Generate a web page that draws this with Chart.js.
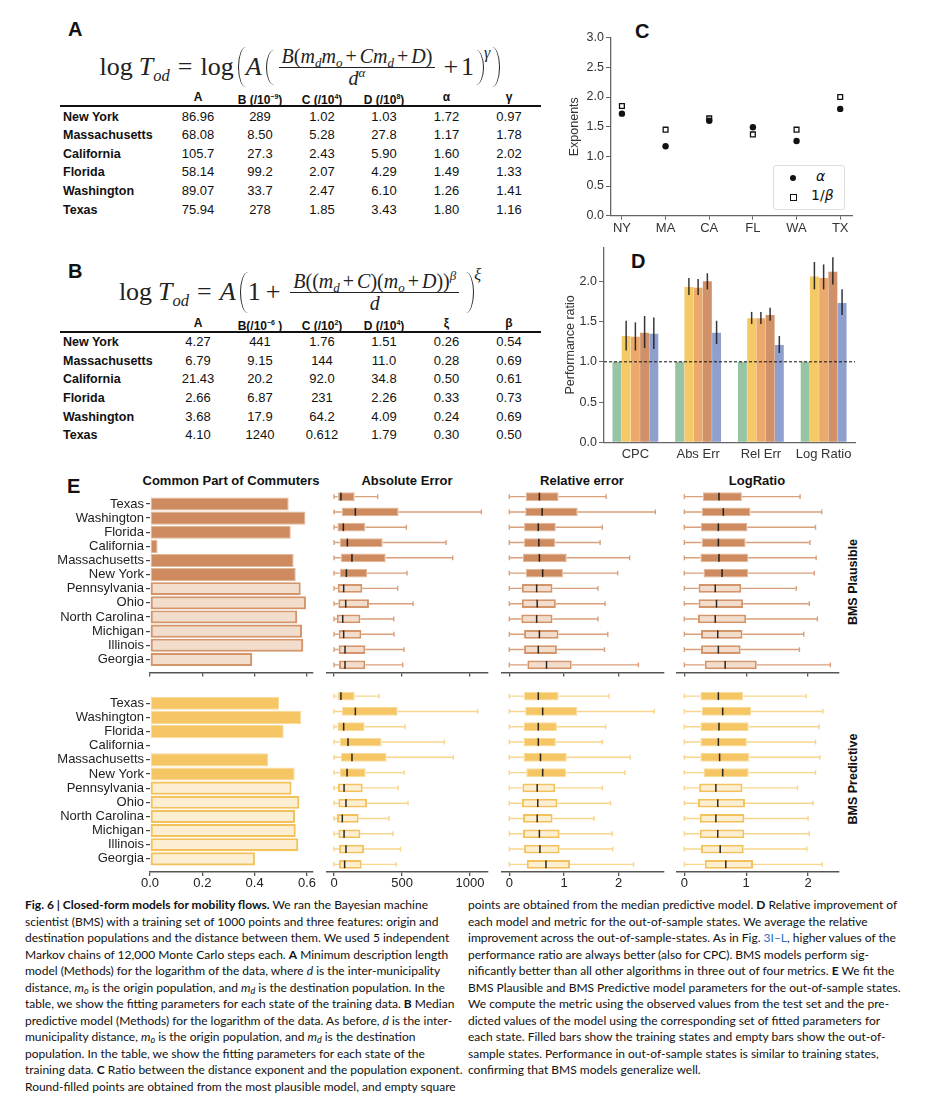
<!DOCTYPE html>
<html>
<head>
<meta charset="utf-8">
<script src="https://cdn.jsdelivr.net/npm/chart.js@4.4.1/dist/chart.umd.min.js"></script>
<style>
body { margin: 0; background: #fff; }
#page { position: relative; width: 933px; height: 1108px; overflow: hidden; font-family: "Liberation Sans", Arial, sans-serif; color: #111; }
.abs { position: absolute; }
.letter { position: absolute; font-weight: bold; font-size: 20px; line-height: 1; }
.hdr { position: absolute; font-weight: bold; font-size: 12px; text-align: center; width: 80px; line-height: 18px; white-space: nowrap; }
.hdr sup { font-size: 7px; }
.cell { position: absolute; font-size: 13px; text-align: center; width: 70px; line-height: 18px; }
.state { position: absolute; font-weight: bold; font-size: 12.5px; line-height: 18px; left: 63px; }
.rule { position: absolute; left: 60px; width: 481px; height: 2px; background: #111; }
.formula { position: absolute; display: flex; align-items: center; justify-content: center; font-family: "Liberation Serif", "DejaVu Serif", serif; font-size: 26px; white-space: nowrap; color: #222; }
.formula sub { font-size: 16.5px; vertical-align: -6px; line-height: 0; }
.frac { display: inline-flex; flex-direction: column; align-items: center; font-size: 20px; margin: 0 5px; line-height: 20px; }
.frac sub { font-size: 13px; vertical-align: -4px; }
.frac sup { font-size: 13px; line-height: 0; }
.num { border-bottom: 1px solid #222; padding: 0 3px 1px 3px; }
.op { margin: 0 3px; }
.eq { margin: 0 8px; }
.pl { display: inline-block; width: 7px; border-left: 1.4px solid #222; border-radius: 100% 0 0 100% / 50% 0 0 50%; margin: 0 0 0 4px; }
.pr { display: inline-block; width: 7px; border-right: 1.4px solid #222; border-radius: 0 100% 100% 0 / 0 50% 50% 0; margin: 0 0 0 2px; }
.pow { font-size: 16px; align-self: flex-start; font-style: italic; }
.sp { display: inline-block; width: 6px; }
.coltitle { position: absolute; font-weight: bold; font-size: 13px; text-align: center; width: 220px; line-height: 16px; }
.rowtitle { position: absolute; font-weight: bold; font-size: 12.5px; transform: rotate(-90deg); transform-origin: center; width: 120px; text-align: center; line-height: 14px; }
.caption { position: absolute; font-family: Lato, "Liberation Sans", sans-serif; font-size: 12px; line-height: 16.55px; white-space: nowrap; color: #111; }
.caption sub { font-size: 9px; line-height: 0; vertical-align: -2px; }
.caption b { font-weight: bold; }
.link { color: #2a6ebb; }
</style>
</head>
<body>
<div id="page">

<div class="letter" style="left:68px;top:19px;">A</div>
<div class="formula" style="left:40px;top:41px;width:520px;height:52px;">
  <span>log</span><span class="sp"></span><span><i>T</i><sub><i>od</i></sub></span><span class="eq">=</span><span>log</span>
  <span class="pl" style="height:40px;"></span><span><i>A</i></span>
  <span class="pl" style="height:35px;"></span>
  <span class="frac"><span class="num"><i>B</i>(<i>m</i><sub><i>d</i></sub><i>m</i><sub><i>o</i></sub><span class="op">+</span><i>Cm</i><sub><i>d</i></sub><span class="op">+</span><i>D</i>)</span><span class="den"><i>d</i><sup><i>α</i></sup></span></span>
  <span class="op">+</span><span>1</span><span class="pr" style="height:35px;"></span><span class="pow" style="margin-top:3px;">γ</span><span class="pr" style="height:40px;"></span>
</div>

<div class="letter" style="left:68px;top:261px;">B</div>
<div class="formula" style="left:40px;top:266px;width:520px;height:52px;">
  <span>log</span><span class="sp"></span><span><i>T</i><sub><i>od</i></sub></span><span class="eq">=</span><span><i>A</i></span>
  <span class="pl" style="height:41px;"></span><span>1</span><span class="op" style="margin:0 5px;">+</span>
  <span class="frac"><span class="num"><i>B</i>((<i>m</i><sub><i>d</i></sub><span class="op">+</span><i>C</i>)(<i>m</i><sub><i>o</i></sub><span class="op">+</span><i>D</i>))<sup><i>β</i></sup></span><span class="den"><i>d</i></span></span>
  <span class="pr" style="height:41px;"></span><span class="pow" style="margin-top:0px;">ξ</span>
</div>

<div class="letter" style="left:635px;top:21px;">C</div>
<div class="letter" style="left:631px;top:251px;">D</div>
<div class="letter" style="left:67px;top:476px;">E</div>

<div class="abs" style="left:773px;top:165px;width:70px;height:43px;border:1px solid #ddd;border-radius:3px;background:#fff;">
  <div class="abs" style="left:16px;top:9px;width:6px;height:6px;border-radius:50%;background:#111;"></div>
  <div class="abs" style="left:42px;top:2px;font-family:'DejaVu Sans';font-style:italic;font-size:14px;">α</div>
  <div class="abs" style="left:15.5px;top:28px;width:5px;height:5px;border:1.2px solid #111;background:#fff;"></div>
  <div class="abs" style="left:37px;top:21px;font-family:'DejaVu Sans';font-size:14px;">1/<i>β</i></div>
</div>

<div class="coltitle" style="left:121px;top:473px;">Common Part of Commuters</div>
<div class="coltitle" style="left:297px;top:473px;">Absolute Error</div>
<div class="coltitle" style="left:472px;top:473px;">Relative error</div>
<div class="coltitle" style="left:647px;top:473px;">LogRatio</div>
<div class="rowtitle" style="left:793px;top:575px;">BMS Plausible</div>
<div class="rowtitle" style="left:793px;top:772px;">BMS Predictive</div>

<div class="caption" style="left:25px;top:897px;">
<b>Fig. 6 | Closed-form models for mobility flows.</b> We ran the Bayesian machine<br>
scientist (BMS) with a training set of 1000 points and three features: origin and<br>
destination populations and the distance between them. We used 5 independent<br>
Markov chains of 12,000 Monte Carlo steps each. <b>A</b> Minimum description length<br>
model (Methods) for the logarithm of the data, where <i>d</i> is the inter-municipality<br>
distance, <i>m<sub>o</sub></i> is the origin population, and <i>m<sub>d</sub></i> is the destination population. In the<br>
table, we show the fitting parameters for each state of the training data. <b>B</b> Median<br>
predictive model (Methods) for the logarithm of the data. As before, <i>d</i> is the inter-<br>
municipality distance, <i>m<sub>o</sub></i> is the origin population, and <i>m<sub>d</sub></i> is the destination<br>
population. In the table, we show the fitting parameters for each state of the<br>
training data. <b>C</b> Ratio between the distance exponent and the population exponent.<br>
Round-filled points are obtained from the most plausible model, and empty square
</div>
<div class="caption" style="left:468px;top:897px;">
points are obtained from the median predictive model. <b>D</b> Relative improvement of<br>
each model and metric for the out-of-sample states. We average the relative<br>
improvement across the out-of-sample-states. As in Fig. <span class="link">3I–L</span>, higher values of the<br>
performance ratio are always better (also for CPC). BMS models perform sig-<br>
nificantly better than all other algorithms in three out of four metrics. <b>E</b> We fit the<br>
BMS Plausible and BMS Predictive model parameters for the out-of-sample states.<br>
We compute the metric using the observed values from the test set and the pre-<br>
dicted values of the model using the corresponding set of fitted parameters for<br>
each state. Filled bars show the training states and empty bars show the out-of-<br>
sample states. Performance in out-of-sample states is similar to training states,<br>
confirming that BMS models generalize well.
</div>

</div>

<script>
// ---- tables A and B ----
const tableStates = ['New York', 'Massachusetts', 'California', 'Florida', 'Washington', 'Texas'];
const headersA = ['A', 'B (/10<sup>−9</sup>)', 'C (/10<sup>4</sup>)', 'D (/10<sup>8</sup>)', 'α', 'γ'];
const fitParamsA = [
  ['86.96', '289', '1.02', '1.03', '1.72', '0.97'],
  ['68.08', '8.50', '5.28', '27.8', '1.17', '1.78'],
  ['105.7', '27.3', '2.43', '5.90', '1.60', '2.02'],
  ['58.14', '99.2', '2.07', '4.29', '1.49', '1.33'],
  ['89.07', '33.7', '2.47', '6.10', '1.26', '1.41'],
  ['75.94', '278', '1.85', '3.43', '1.80', '1.16']
];
const headersB = ['A', 'B(/10<sup>−6</sup> )', 'C (/10<sup>2</sup>)', 'D (/10<sup>4</sup>)', 'ξ', 'β'];
const fitParamsB = [
  ['4.27', '441', '1.76', '1.51', '0.26', '0.54'],
  ['6.79', '9.15', '144', '11.0', '0.28', '0.69'],
  ['21.43', '20.2', '92.0', '34.8', '0.50', '0.61'],
  ['2.66', '6.87', '231', '2.26', '0.33', '0.73'],
  ['3.68', '17.9', '64.2', '4.09', '0.24', '0.69'],
  ['4.10', '1240', '0.612', '1.79', '0.30', '0.50']
];

// ---- panel C ----
const stateCodes = ['NY', 'MA', 'CA', 'FL', 'WA', 'TX'];
const alphaExp = [1.72, 1.17, 1.60, 1.49, 1.26, 1.80];
const invBetaExp = [1.85, 1.45, 1.64, 1.37, 1.45, 2.00];

// ---- panel D ----
const metricNames = ['CPC', 'Abs Err', 'Rel Err', 'Log Ratio'];
const ratioModel1 = [1, 1, 1, 1];
const ratioModel2 = [1.32, 1.93, 1.54, 2.06];
const ratioModel2Lo = [1.14, 1.83, 1.47, 1.90];
const ratioModel2Hi = [1.51, 2.04, 1.62, 2.24];
const ratioModel3 = [1.31, 1.92, 1.54, 2.04];
const ratioModel3Lo = [1.14, 1.83, 1.47, 1.90];
const ratioModel3Hi = [1.49, 2.03, 1.62, 2.21];
const ratioModel4 = [1.36, 2.00, 1.58, 2.12];
const ratioModel4Lo = [1.17, 1.90, 1.51, 1.96];
const ratioModel4Hi = [1.57, 2.10, 1.67, 2.30];
const ratioModel5 = [1.35, 1.36, 1.21, 1.73];
const ratioModel5Lo = [1.16, 1.22, 1.11, 1.58];
const ratioModel5Hi = [1.55, 1.51, 1.32, 1.90];

// ---- panel E ----
const stateNames = ['Texas', 'Washington', 'Florida', 'California', 'Massachusetts', 'New York',
  'Pennsylvania', 'Ohio', 'North Carolina', 'Michigan', 'Illinois', 'Georgia'];
const trainCount = 6;
const cpcPlausible = [0.530, 0.594, 0.538, 0.029, 0.549, 0.557, 0.576, 0.596, 0.563, 0.581, 0.586, 0.391];
const cpcPredictive = [0.493, 0.578, 0.511, 0.004, 0.452, 0.553, 0.541, 0.571, 0.555, 0.557, 0.567, 0.401];
// [low whisker, q1, median, q3, high whisker]
const absErrPlausible = [[0, 27, 51, 152, 321], [0, 56, 157, 475, 1083], [0, 25, 69, 230, 532], [0, 42, 98, 358, 824],
  [0, 49, 132, 380, 873], [0, 42, 91, 243, 537], [0, 27, 71, 208, 468], [0, 32, 86, 257, 581],
  [0, 20, 64, 194, 439], [0, 34, 71, 201, 441], [0, 34, 81, 230, 515], [0, 37, 81, 230, 505]];
const absErrPredictive = [[0, 25, 51, 152, 331], [0, 59, 157, 468, 1056], [0, 25, 71, 225, 522], [0, 42, 103, 350, 811],
  [0, 51, 132, 387, 877], [0, 44, 96, 233, 515], [0, 29, 74, 211, 471], [0, 32, 88, 243, 544],
  [0, 22, 61, 181, 404], [0, 32, 74, 194, 434], [0, 37, 88, 221, 488], [0, 37, 78, 203, 456]];
const relErrPlausible = [[0, 0.30, 0.55, 0.90, 1.77], [0, 0.29, 0.60, 1.25, 2.67], [0, 0.27, 0.53, 0.85, 1.70], [0, 0.27, 0.54, 0.84, 1.66],
  [0, 0.25, 0.55, 1.05, 2.20], [0, 0.30, 0.61, 0.98, 1.98], [0, 0.23, 0.50, 0.79, 1.62], [0, 0.23, 0.51, 0.85, 1.75],
  [0, 0.22, 0.50, 0.79, 1.62], [0, 0.27, 0.55, 0.90, 1.80], [0, 0.27, 0.53, 0.87, 1.74], [0, 0.33, 0.68, 1.14, 2.36]];
const relErrPredictive = [[0, 0.27, 0.53, 0.90, 1.82], [0, 0.29, 0.61, 1.24, 2.65], [0, 0.26, 0.53, 0.87, 1.76], [0, 0.26, 0.53, 0.85, 1.70],
  [0, 0.26, 0.57, 1.05, 2.21], [0, 0.31, 0.61, 1.04, 2.11], [0, 0.24, 0.51, 0.84, 1.70], [0, 0.23, 0.52, 0.88, 1.85],
  [0, 0.25, 0.51, 0.79, 1.55], [0, 0.25, 0.55, 0.92, 1.88], [0, 0.27, 0.56, 0.92, 1.89], [0, 0.32, 0.67, 1.11, 2.27]];
const logRatioPlausible = [[0, 0.30, 0.56, 0.93, 1.87], [0, 0.28, 0.63, 1.07, 2.22], [0, 0.27, 0.55, 1.02, 2.12], [0, 0.28, 0.55, 0.99, 2.03],
  [0, 0.26, 0.56, 1.03, 2.13], [0, 0.31, 0.61, 1.03, 2.10], [0, 0.23, 0.50, 0.92, 1.81], [0, 0.23, 0.52, 0.95, 2.02],
  [0, 0.22, 0.50, 1.00, 2.15], [0, 0.27, 0.54, 0.94, 1.93], [0, 0.27, 0.55, 0.91, 1.86], [0, 0.33, 0.66, 1.17, 2.36]];
const logRatioPredictive = [[0, 0.26, 0.55, 0.95, 1.97], [0, 0.28, 0.62, 1.08, 2.24], [0, 0.26, 0.56, 1.04, 2.18], [0, 0.26, 0.55, 1.01, 2.12],
  [0, 0.26, 0.57, 1.05, 2.19], [0, 0.31, 0.62, 1.04, 2.12], [0, 0.24, 0.51, 0.94, 1.83], [0, 0.22, 0.54, 0.98, 2.08],
  [0, 0.25, 0.51, 0.97, 2.00], [0, 0.25, 0.54, 0.97, 2.02], [0, 0.27, 0.58, 0.96, 1.98], [0, 0.33, 0.67, 1.11, 2.23]];

const page = document.getElementById('page');

// tables
function buildTable(headers, rows, headerY, rowYs, ruleY) {
  const centers = [198, 260, 322, 384, 446.5, 509];
  headers.forEach((h, j) => {
    const d = document.createElement('div');
    d.className = 'hdr';
    d.style.left = (centers[j] - 40) + 'px';
    d.style.top = (headerY - 9) + 'px';
    d.innerHTML = h;
    page.appendChild(d);
  });
  const r = document.createElement('div');
  r.className = 'rule';
  r.style.top = (ruleY - 1) + 'px';
  page.appendChild(r);
  rows.forEach((row, i) => {
    const s = document.createElement('div');
    s.className = 'state';
    s.style.top = (rowYs[i] - 9) + 'px';
    s.textContent = tableStates[i];
    page.appendChild(s);
    row.forEach((v, j) => {
      const c = document.createElement('div');
      c.className = 'cell';
      c.style.left = (centers[j] - 35) + 'px';
      c.style.top = (rowYs[i] - 9) + 'px';
      c.textContent = v;
      page.appendChild(c);
    });
  });
}
buildTable(headersA, fitParamsA, 96.7, [116.7, 135, 153.5, 172.3, 191, 209.5], 105.7);
buildTable(headersB, fitParamsB, 322.7, [341.7, 360.7, 379.3, 397.8, 416.7, 435.3], 331.5);

Chart.defaults.font.family = '"Liberation Sans", Arial, sans-serif';
Chart.defaults.color = '#333';
Chart.defaults.animation = false;
Chart.defaults.responsive = false;
Chart.defaults.plugins.legend.display = false;
Chart.defaults.plugins.tooltip.enabled = false;

function place(L, T, W, H) {
  const c = document.createElement('canvas');
  c.width = W;
  c.height = H;
  c.style.cssText = `position:absolute;left:${L}px;top:${T}px;width:${W}px;height:${H}px;`;
  page.appendChild(c);
  return c;
}

// panel C
new Chart(place(555, 25, 305, 215), {
  type: 'scatter',
  data: {
    datasets: [
      { label: 'α', data: alphaExp.map((v, i) => ({ x: i, y: v })), pointStyle: 'circle', pointRadius: 3.2,
        pointBackgroundColor: '#111', pointBorderColor: '#111', pointBorderWidth: 0 },
      { label: '1/β', data: invBetaExp.map((v, i) => ({ x: i, y: v })), pointStyle: 'rect', pointRadius: 3.4,
        pointBackgroundColor: '#fff', pointBorderColor: '#111', pointBorderWidth: 1.3 }
    ]
  },
  options: {
    layout: { padding: { left: 0, top: 12.7, right: 8, bottom: 0 } },
    scales: {
      x: {
        type: 'linear', min: -0.25, max: 5.27,
        afterBuildTicks: s => { s.ticks = stateCodes.map((c, i) => ({ value: i })); },
        afterFit: s => { s.height = 24.3; },
        ticks: { callback: v => stateCodes[v], font: { size: 13 }, color: '#333', padding: 1, autoSkip: false, maxRotation: 0 },
        grid: { drawOnChartArea: false, tickLength: 4, color: '#666' },
        border: { color: '#666', width: 1.3 }
      },
      y: {
        min: 0, max: 3,
        afterBuildTicks: s => { s.ticks = [0, 0.5, 1, 1.5, 2, 2.5, 3].map(v => ({ value: v })); },
        afterFit: s => { s.width = 56; },
        ticks: { callback: v => v.toFixed(1), font: { size: 12.5 }, color: '#333', padding: 2 },
        grid: { drawOnChartArea: false, tickLength: 5, color: '#666' },
        border: { color: '#666', width: 1.3 },
        title: { display: true, text: 'Exponents', font: { size: 12.5 }, color: '#333', padding: { top: 12.5 } }
      }
    }
  }
});

// panel D
const errorBars = {
  id: 'errorBars',
  afterDatasetsDraw(chart) {
    const { ctx, chartArea, scales: { y } } = chart;
    ctx.save();
    ctx.strokeStyle = 'rgba(20,20,20,0.85)';
    ctx.lineWidth = 1.5;
    chart.data.datasets.forEach((ds, di) => {
      if (!ds.errLo) return;
      chart.getDatasetMeta(di).data.forEach((bar, i) => {
        ctx.beginPath();
        ctx.moveTo(bar.x, y.getPixelForValue(ds.errLo[i]));
        ctx.lineTo(bar.x, y.getPixelForValue(ds.errHi[i]));
        ctx.stroke();
      });
    });
    const yp = y.getPixelForValue(1);
    ctx.setLineDash([3, 2]);
    ctx.lineWidth = 1;
    ctx.strokeStyle = '#111';
    ctx.beginPath();
    ctx.moveTo(chartArea.left, yp);
    ctx.lineTo(chartArea.right, yp);
    ctx.stroke();
    ctx.restore();
  }
};

const dBar = { categoryPercentage: 0.735, barPercentage: 0.97 };
new Chart(place(555, 238, 305, 232), {
  type: 'bar',
  data: {
    labels: metricNames,
    datasets: [
      Object.assign({ data: ratioModel1, backgroundColor: 'rgba(140,190,155,0.9)' }, dBar),
      Object.assign({ data: ratioModel2, errLo: ratioModel2Lo, errHi: ratioModel2Hi, backgroundColor: 'rgba(245,196,90,0.92)' }, dBar),
      Object.assign({ data: ratioModel3, errLo: ratioModel3Lo, errHi: ratioModel3Hi, backgroundColor: 'rgba(233,162,95,0.92)' }, dBar),
      Object.assign({ data: ratioModel4, errLo: ratioModel4Lo, errHi: ratioModel4Hi, backgroundColor: 'rgba(204,136,92,0.92)' }, dBar),
      Object.assign({ data: ratioModel5, errLo: ratioModel5Lo, errHi: ratioModel5Hi, backgroundColor: 'rgba(134,152,202,0.92)' }, dBar)
    ]
  },
  options: {
    layout: { padding: { left: 0, top: 2.7, right: 5, bottom: 0 } },
    scales: {
      x: {
        afterFit: s => { s.height = 27.7; },
        ticks: { font: { size: 13 }, color: '#333', padding: 4 },
        grid: { display: false, drawTicks: false },
        border: { color: '#666', width: 1.3 }
      },
      y: {
        min: 0, max: 2.42,
        afterBuildTicks: s => { s.ticks = [0, 0.5, 1, 1.5, 2].map(v => ({ value: v })); },
        afterFit: s => { s.width = 49; },
        ticks: { callback: v => v.toFixed(1), font: { size: 12.5 }, color: '#333', padding: 2 },
        grid: { drawOnChartArea: false, tickLength: 5, color: '#666' },
        border: { color: '#666', width: 1.3 },
        title: { display: true, text: 'Performance ratio', font: { size: 12.5 }, color: '#333', padding: { top: 8.5 } }
      }
    }
  },
  plugins: [errorBars]
});

// panel E
const plausPal = { fill: '#cd8b5f', light: '#f2ddcd', edgeSoft: '#e2b797', edgeDark: '#d4956b', whisker: '#d9a07c' };
const predPal = { fill: '#f5c663', light: '#fcefd1', edgeSoft: '#f9dc9c', edgeDark: '#f4c25c', whisker: '#f7d58c' };

const boxWhiskers = {
  id: 'boxWhiskers',
  beforeDatasetsDraw(chart) {
    const { ctx, scales: { x } } = chart;
    const ds = chart.data.datasets[0];
    ctx.save();
    ctx.strokeStyle = ds.pal.whisker;
    ctx.lineWidth = 1.4;
    chart.getDatasetMeta(0).data.forEach((el, i) => {
      const s = ds.stats[i];
      const y = el.y;
      const xs = [x.getPixelForValue(s[0]), x.getPixelForValue(s[1]), x.getPixelForValue(s[3]), x.getPixelForValue(s[4])];
      ctx.beginPath();
      ctx.moveTo(xs[0], y); ctx.lineTo(xs[1], y);
      ctx.moveTo(xs[2], y); ctx.lineTo(xs[3], y);
      ctx.moveTo(xs[0], y - 2.4); ctx.lineTo(xs[0], y + 2.4);
      ctx.moveTo(xs[3], y - 2.4); ctx.lineTo(xs[3], y + 2.4);
      ctx.stroke();
    });
    ctx.restore();
  },
  afterDatasetsDraw(chart) {
    const { ctx, scales: { x } } = chart;
    const ds = chart.data.datasets[0];
    ctx.save();
    ctx.strokeStyle = 'rgba(20,20,20,0.9)';
    ctx.lineWidth = 1.5;
    chart.getDatasetMeta(0).data.forEach((el, i) => {
      const xm = x.getPixelForValue(ds.stats[i][2]);
      ctx.beginPath();
      ctx.moveTo(xm, el.y - el.height / 2 + 0.5);
      ctx.lineTo(xm, el.y + el.height / 2 - 0.5);
      ctx.stroke();
    });
    ctx.restore();
  }
};

function xAxisE(min, max, tickVals, fmt, showLabels, xH) {
  return {
    min: min, max: max,
    afterBuildTicks: s => { s.ticks = tickVals.map(v => ({ value: v })); },
    afterFit: s => { s.height = xH; },
    ticks: { display: showLabels, callback: fmt, font: { size: 13 }, color: '#222', padding: 0, maxRotation: 0, autoSkip: false },
    grid: { drawOnChartArea: false, tickLength: 4, color: '#555', lineWidth: 1.3 },
    border: { color: '#555', width: 1.5 }
  };
}

const eCols = [
  { L: 320, cl: 326.7, cr: 488, min: -53.7, max: 1132, ticks: [0, 500, 1000], fmt: v => String(v), plaus: absErrPlausible, pred: absErrPredictive },
  { L: 495, cl: 501.7, cr: 663.3, min: -0.139, max: 2.815, ticks: [0, 1, 2], fmt: v => String(v), plaus: relErrPlausible, pred: relErrPredictive },
  { L: 670, cl: 676.7, cr: 838.3, min: -0.123, max: 2.488, ticks: [0, 1, 2], fmt: v => String(v), plaus: logRatioPlausible, pred: logRatioPredictive }
];
const eRows = [
  { key: 'plaus', pal: plausPal, cpc: cpcPlausible, boxT: 480, boxH: 210, boxCt: 489, barT: 485, barH: 205, barCt: 496.9, cb: 672.5, labels: false },
  { key: 'pred', pal: predPal, cpc: cpcPredictive, boxT: 680, boxH: 220, boxCt: 688.5, barT: 685, barH: 215, barCt: 696.2, cb: 872, labels: true }
];

eRows.forEach(row => {
  const pal = row.pal;
  // common part of commuters bars
  new Chart(place(40, row.barT, 280, row.barH), {
    type: 'bar',
    data: {
      labels: stateNames,
      datasets: [{
        data: row.cpc,
        backgroundColor: row.cpc.map((v, i) => i < trainCount ? pal.fill : pal.light),
        borderColor: row.cpc.map((v, i) => i < trainCount ? pal.edgeSoft : pal.edgeDark),
        borderWidth: row.cpc.map((v, i) => i < trainCount ? 1 : 2.2),
        borderSkipped: false,
        categoryPercentage: 1, barPercentage: 0.93
      }]
    },
    options: {
      indexAxis: 'y',
      layout: { padding: { left: 0, top: row.barCt - row.barT, right: 7, bottom: 0 } },
      scales: {
        x: xAxisE(0, 0.623, [0, 0.2, 0.4, 0.6], v => v.toFixed(1), row.labels, row.barT + row.barH - row.cb),
        y: {
          afterFit: s => { s.width = 110; },
          afterBuildTicks: s => { s._valueRange += 0.43; },
          ticks: { font: { size: 13 }, color: '#222', padding: 2, autoSkip: false },
          grid: { drawOnChartArea: false, offset: false, tickLength: 4, color: '#444', lineWidth: 1.2 },
          border: { display: false }
        }
      }
    }
  });
  // box plots
  eCols.forEach(col => {
    const stats = col[row.key];
    new Chart(place(col.L, row.boxT, 175, row.boxH), {
      type: 'bar',
      data: {
        labels: stateNames,
        datasets: [{
          data: stats.map(s => [s[1], s[3]]),
          stats: stats,
          pal: pal,
          backgroundColor: stats.map((s, i) => i < trainCount ? pal.fill : pal.light),
          borderColor: stats.map((s, i) => i < trainCount ? pal.edgeSoft : pal.edgeDark),
          borderWidth: stats.map((s, i) => i < trainCount ? 1 : 2),
          borderSkipped: false,
          categoryPercentage: 1, barPercentage: 0.57
        }]
      },
      options: {
        indexAxis: 'y',
        layout: { padding: { left: col.cl - col.L, top: row.boxCt - row.boxT, right: col.L + 175 - col.cr, bottom: 0 } },
        scales: {
          x: xAxisE(col.min, col.max, col.ticks, col.fmt, row.labels, row.boxT + row.boxH - row.cb),
          y: { display: false }
        }
      },
      plugins: [boxWhiskers]
    });
  });
});
</script>
</body>
</html>
